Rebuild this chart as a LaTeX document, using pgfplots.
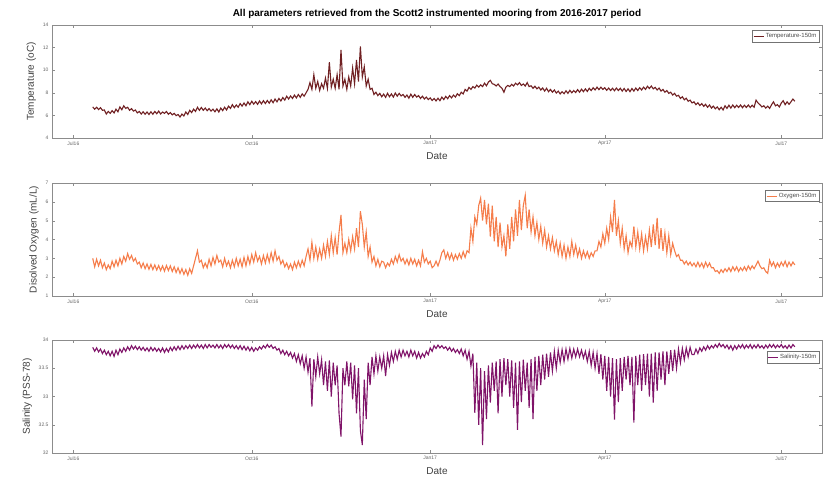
\documentclass[border=0pt]{standalone}
\usepackage{fontspec}
\setmainfont{Liberation Sans}
\usepackage{pgfplots}
\usepackage{pgfplotstable}
\pgfplotsset{compat=1.18}

\definecolor{tempc}{RGB}{112,32,34}
\definecolor{oxyc}{RGB}{245,125,75}
\definecolor{salc}{RGB}{128,20,105}

% daily values from day 10 (12 Jul 2016) to day 372
\pgfplotstableread[row sep=\\,header=false]{
6.75\\6.55\\6.72\\6.52\\6.68\\6.45\\6.48\\6.12\\6.35\\6.18\\
6.42\\6.22\\6.55\\6.32\\6.75\\6.5\\6.85\\6.62\\6.72\\6.45\\
6.6\\6.38\\6.48\\6.22\\6.35\\6.12\\6.32\\6.1\\6.3\\6.08\\
6.32\\6.1\\6.35\\6.15\\6.38\\6.12\\6.3\\6.18\\6.34\\6.1\\
6.25\\6.05\\6.18\\5.98\\6.08\\5.85\\6.12\\5.95\\6.3\\6.08\\
6.45\\6.25\\6.55\\6.35\\6.72\\6.45\\6.7\\6.45\\6.65\\6.42\\
6.6\\6.38\\6.55\\6.32\\6.58\\6.3\\6.65\\6.42\\6.72\\6.48\\
6.82\\6.62\\6.95\\6.68\\6.92\\6.72\\7.05\\6.82\\7.1\\6.85\\
7.2\\6.95\\7.25\\7.0\\7.22\\6.98\\7.28\\7.02\\7.3\\7.05\\
7.32\\7.08\\7.38\\7.12\\7.45\\7.2\\7.5\\7.28\\7.58\\7.35\\
7.7\\7.45\\7.72\\7.5\\7.8\\7.55\\7.85\\7.6\\7.9\\7.7\\
8.0\\8.3\\8.9\\8.3\\9.6\\8.4\\9.0\\8.2\\8.8\\8.4\\
9.3\\8.4\\10.7\\8.5\\9.2\\8.4\\9.6\\8.3\\11.8\\8.6\\
9.2\\8.3\\9.4\\8.6\\10.2\\8.8\\10.9\\9.0\\12.1\\9.4\\
10.3\\8.6\\9.2\\8.3\\8.4\\7.85\\8.05\\7.75\\7.95\\7.65\\
7.88\\7.6\\7.95\\7.65\\7.9\\7.62\\7.98\\7.7\\7.95\\7.72\\
7.85\\7.6\\7.8\\7.52\\7.88\\7.6\\7.85\\7.62\\7.75\\7.5\\
7.7\\7.45\\7.62\\7.4\\7.55\\7.32\\7.5\\7.28\\7.52\\7.3\\
7.62\\7.4\\7.68\\7.48\\7.75\\7.55\\7.8\\7.62\\7.92\\7.75\\
8.05\\7.9\\8.3\\8.15\\8.48\\8.3\\8.55\\8.42\\8.68\\8.5\\
8.7\\8.55\\8.85\\8.62\\8.95\\9.1\\8.8\\8.75\\8.6\\8.78\\
8.55\\8.4\\8.05\\8.5\\8.65\\8.55\\8.75\\8.6\\8.85\\8.7\\
8.9\\8.65\\8.78\\8.6\\8.9\\8.55\\8.62\\8.4\\8.58\\8.35\\
8.5\\8.25\\8.42\\8.15\\8.4\\8.1\\8.3\\8.05\\8.25\\7.98\\
8.15\\7.9\\8.1\\7.92\\8.18\\7.95\\8.22\\8.0\\8.2\\8.02\\
8.28\\8.05\\8.32\\8.1\\8.35\\8.12\\8.4\\8.2\\8.45\\8.25\\
8.5\\8.28\\8.5\\8.3\\8.45\\8.22\\8.42\\8.2\\8.4\\8.18\\
8.42\\8.2\\8.4\\8.15\\8.38\\8.12\\8.35\\8.1\\8.38\\8.15\\
8.42\\8.2\\8.45\\8.25\\8.5\\8.3\\8.58\\8.38\\8.6\\8.35\\
8.48\\8.25\\8.42\\8.15\\8.3\\8.05\\8.2\\7.95\\8.05\\7.8\\
7.95\\7.7\\7.78\\7.5\\7.65\\7.38\\7.52\\7.25\\7.35\\7.1\\
7.2\\6.95\\7.12\\6.88\\7.05\\6.8\\6.98\\6.72\\6.92\\6.65\\
6.82\\6.58\\6.75\\6.5\\6.72\\6.48\\6.85\\6.62\\6.9\\6.65\\
6.92\\6.68\\6.9\\6.7\\6.92\\6.68\\6.9\\6.7\\6.92\\6.7\\
6.9\\6.72\\7.35\\7.1\\6.95\\6.75\\6.85\\6.65\\6.82\\6.62\\
6.95\\7.2\\6.85\\6.95\\6.75\\7.1\\7.3\\6.95\\7.2\\6.98\\
7.2\\7.45\\7.25\\
}\temptable

\pgfplotstableread[row sep=\\,header=false]{
3.0\\2.55\\2.95\\2.6\\2.9\\2.5\\2.75\\2.4\\2.65\\2.45\\
2.85\\2.55\\2.9\\2.6\\3.0\\2.7\\3.1\\2.85\\3.25\\2.95\\
3.15\\2.85\\3.0\\2.7\\2.8\\2.5\\2.75\\2.45\\2.7\\2.42\\
2.68\\2.4\\2.65\\2.38\\2.62\\2.35\\2.6\\2.32\\2.62\\2.35\\
2.6\\2.3\\2.55\\2.25\\2.5\\2.2\\2.45\\2.15\\2.4\\2.1\\
2.45\\2.2\\2.6\\3.0\\3.4\\2.8\\2.9\\2.5\\2.75\\2.5\\
2.95\\2.6\\3.05\\2.7\\3.15\\2.8\\2.9\\2.55\\3.0\\2.6\\
2.85\\2.5\\2.9\\2.55\\3.0\\2.6\\2.95\\2.55\\3.05\\2.6\\
3.1\\2.7\\3.2\\2.8\\3.3\\2.85\\3.1\\2.7\\3.15\\2.75\\
3.2\\2.8\\3.3\\2.85\\3.4\\2.9\\3.1\\2.7\\2.9\\2.55\\
2.75\\2.45\\2.7\\2.4\\2.8\\2.5\\2.85\\2.55\\2.9\\2.6\\
3.1\\3.5\\2.9\\3.85\\3.0\\3.6\\2.95\\3.5\\3.0\\3.7\\
3.1\\3.9\\3.2\\4.2\\3.3\\4.1\\3.2\\4.4\\5.3\\3.3\\
3.8\\3.3\\4.0\\3.4\\4.15\\3.5\\4.6\\3.6\\5.5\\4.8\\
3.6\\4.4\\3.1\\3.6\\2.8\\3.1\\2.6\\2.95\\2.55\\2.85\\
2.8\\2.5\\2.75\\2.6\\2.95\\2.7\\3.1\\2.8\\3.2\\2.85\\
3.0\\2.7\\2.95\\2.65\\3.0\\2.7\\2.95\\2.6\\2.9\\2.6\\
3.35\\2.8\\3.0\\2.7\\2.85\\2.5\\2.6\\2.85\\2.6\\2.9\\
3.3\\3.45\\3.0\\3.3\\2.95\\3.25\\2.9\\3.2\\2.95\\3.25\\
3.0\\3.35\\3.05\\3.4\\3.3\\4.6\\3.9\\5.2\\4.8\\5.8\\
6.2\\5.0\\6.1\\4.8\\5.9\\4.15\\5.8\\3.9\\5.2\\3.6\\
4.9\\3.6\\4.2\\3.1\\4.8\\3.5\\5.2\\3.9\\5.6\\4.2\\
6.1\\4.5\\5.8\\6.35\\4.6\\5.6\\4.4\\5.2\\4.2\\4.9\\
4.0\\4.7\\3.8\\4.5\\3.6\\4.2\\3.5\\4.1\\3.4\\3.9\\
3.2\\3.8\\3.1\\3.7\\3.0\\3.6\\3.1\\3.9\\3.2\\3.7\\
3.1\\3.5\\3.0\\3.4\\3.05\\3.35\\3.0\\3.3\\3.1\\3.4\\
3.4\\3.9\\3.6\\4.3\\3.8\\4.6\\4.0\\5.2\\4.4\\6.1\\
4.2\\5.0\\3.8\\4.6\\3.5\\4.2\\3.3\\3.9\\3.6\\4.7\\
3.6\\4.4\\3.5\\4.3\\3.4\\4.15\\3.5\\4.5\\3.6\\4.8\\
3.7\\5.15\\3.5\\4.6\\3.4\\4.35\\3.3\\4.2\\3.2\\3.8\\
3.4\\3.1\\3.2\\2.9\\2.9\\2.7\\2.85\\2.65\\2.8\\2.6\\
2.75\\2.55\\2.8\\2.55\\2.75\\2.5\\2.8\\2.55\\2.75\\2.5\\
2.5\\2.3\\2.35\\2.2\\2.4\\2.25\\2.45\\2.3\\2.5\\2.3\\
2.55\\2.35\\2.55\\2.3\\2.5\\2.35\\2.55\\2.35\\2.6\\2.4\\
2.6\\2.45\\2.65\\2.85\\2.6\\2.45\\2.5\\2.3\\2.2\\2.9\\
2.6\\2.8\\2.5\\2.75\\2.55\\2.8\\2.6\\2.85\\2.55\\2.8\\
2.6\\2.8\\2.65\\
}\oxytable

\pgfplotstableread[row sep=\\,header=false]{
33.87\\33.8\\33.86\\33.79\\33.84\\33.76\\33.82\\33.74\\33.8\\33.72\\
33.8\\33.71\\33.82\\33.74\\33.84\\33.78\\33.86\\33.8\\33.88\\33.82\\
33.9\\33.84\\33.89\\33.83\\33.88\\33.82\\33.87\\33.81\\33.86\\33.8\\
33.87\\33.81\\33.86\\33.8\\33.85\\33.79\\33.86\\33.78\\33.85\\33.79\\
33.87\\33.81\\33.88\\33.82\\33.89\\33.83\\33.9\\33.84\\33.9\\33.85\\
33.91\\33.85\\33.91\\33.86\\33.92\\33.86\\33.91\\33.85\\33.92\\33.86\\
33.92\\33.87\\33.91\\33.86\\33.92\\33.86\\33.91\\33.85\\33.92\\33.87\\
33.92\\33.86\\33.91\\33.85\\33.9\\33.84\\33.9\\33.83\\33.89\\33.82\\
33.88\\33.81\\33.87\\33.8\\33.86\\33.82\\33.88\\33.84\\33.9\\33.86\\
33.92\\33.87\\33.91\\33.85\\33.88\\33.82\\33.85\\33.76\\33.82\\33.74\\
33.8\\33.72\\33.78\\33.68\\33.76\\33.62\\33.74\\33.58\\33.72\\33.5\\
33.7\\33.43\\33.68\\32.82\\33.66\\33.35\\33.7\\33.4\\33.65\\33.2\\
33.62\\33.1\\33.64\\33.0\\33.6\\33.2\\33.55\\32.7\\32.29\\33.5\\
33.2\\33.62\\33.18\\33.6\\32.95\\33.55\\32.7\\33.5\\32.4\\32.14\\
33.3\\32.6\\33.6\\33.2\\33.7\\33.4\\33.72\\33.45\\33.7\\33.5\\
33.72\\33.36\\33.74\\33.55\\33.78\\33.62\\33.8\\33.66\\33.82\\33.7\\
33.82\\33.72\\33.8\\33.7\\33.82\\33.72\\33.8\\33.68\\33.78\\33.68\\
33.76\\33.7\\33.8\\33.74\\33.86\\33.8\\33.9\\33.85\\33.91\\33.86\\
33.9\\33.85\\33.88\\33.82\\33.87\\33.8\\33.85\\33.78\\33.83\\33.76\\
33.84\\33.72\\33.82\\33.66\\33.8\\33.54\\33.76\\32.71\\33.6\\32.5\\
33.5\\32.14\\33.45\\32.6\\33.55\\32.89\\33.6\\33.1\\33.62\\32.7\\
33.66\\33.0\\33.68\\33.2\\33.66\\33.0\\33.64\\32.8\\33.6\\32.41\\
33.62\\32.9\\33.65\\33.1\\33.6\\32.8\\33.66\\32.6\\33.7\\33.1\\
33.72\\33.2\\33.74\\33.3\\33.76\\33.35\\33.78\\33.45\\33.8\\33.5\\
33.82\\33.6\\33.83\\33.62\\33.84\\33.66\\33.85\\33.68\\33.84\\33.7\\
33.84\\33.7\\33.82\\33.68\\33.8\\33.62\\33.8\\33.55\\33.78\\33.5\\
33.76\\33.4\\33.75\\33.3\\33.72\\33.1\\33.7\\33.0\\33.68\\32.59\\
33.66\\32.9\\33.68\\33.1\\33.7\\33.3\\33.72\\33.2\\33.7\\32.54\\
33.72\\33.2\\33.74\\33.1\\33.75\\33.2\\33.76\\33.0\\33.76\\32.89\\
33.78\\33.1\\33.78\\33.3\\33.8\\33.2\\33.8\\33.4\\33.82\\33.45\\
33.83\\33.5\\33.84\\33.6\\33.85\\33.65\\33.86\\33.7\\33.87\\33.74\\
33.74\\33.84\\33.76\\33.86\\33.8\\33.88\\33.82\\33.9\\33.84\\33.9\\
33.86\\33.92\\33.87\\33.94\\33.88\\33.92\\33.86\\33.91\\33.84\\33.9\\
33.82\\33.9\\33.84\\33.91\\33.86\\33.92\\33.85\\33.91\\33.86\\33.92\\
33.85\\33.91\\33.86\\33.92\\33.86\\33.9\\33.85\\33.91\\33.86\\33.92\\
33.87\\33.92\\33.86\\33.91\\33.87\\33.92\\33.86\\33.9\\33.85\\33.91\\
33.86\\33.92\\33.88\\
}\saltable

\pgfplotsset{
  moor/.style={
    scale only axis, width=770pt, height=113pt,
    xmin=-11, xmax=386,
    xtick={0,92,184,274,365},
    xticklabels={Jul16,Oct16,Jan17,Apr17,Jul17},
    tick align=inside,
    axis line style={black!45},
    major tick style={black!45},
    major tick length=3pt,
    tick label style={font=\fontsize{5}{6}\selectfont, text=black!60},
    /pgf/number format/assume math mode=true,
    xlabel=Date,
    label style={font=\fontsize{10}{12}\selectfont, text=black!75},
    legend style={font=\fontsize{6}{7}\selectfont, text=black!70, draw=black!55,
      fill=white, inner sep=1pt, anchor=north east},
    legend cell align=left,
    legend image code/.code={\draw[#1, line width=0.4pt] (0pt,0pt) -- (10pt,0pt);},
  },
}

\begin{document}
\begin{tikzpicture}
\useasboundingbox (0pt,0pt) rectangle (824pt,482pt);

\begin{axis}[moor, at={(52pt,344pt)}, anchor=south west,
  ymin=4, ymax=14, ytick={4,6,...,14},
  ylabel={Temperature (oC)},
  title={All parameters retrieved from the Scott2 instrumented mooring from 2016-2017 period},
  title style={font=\bfseries\fontsize{10}{12}\selectfont, yshift=-3pt},
  legend style={at={(0.997,0.955)}}]
\addplot[tempc, line width=1.1pt] table[x expr=\coordindex+10, y index=0] {\temptable};
\addlegendentry{Temperature-150m}
\end{axis}

\begin{axis}[moor, at={(52pt,186pt)}, anchor=south west,
  ymin=1, ymax=7, ytick={1,...,7},
  ylabel={Disolved Oxygen (mL/L)},
  legend style={at={(0.997,0.94)}}]
\addplot[oxyc, line width=1.1pt] table[x expr=\coordindex+10, y index=0] {\oxytable};
\addlegendentry{Oxygen-150m}
\end{axis}

\begin{axis}[moor, at={(52pt,29pt)}, anchor=south west,
  ymin=32, ymax=34, ytick={32,32.5,...,34},
  ylabel={Salinity (PSS-78)},
  legend style={at={(0.997,0.9)}}]
\addplot[salc, line width=1.1pt] table[x expr=\coordindex+10, y index=0] {\saltable};
\addlegendentry{Salinity-150m}
\end{axis}
\end{tikzpicture}
\end{document}
